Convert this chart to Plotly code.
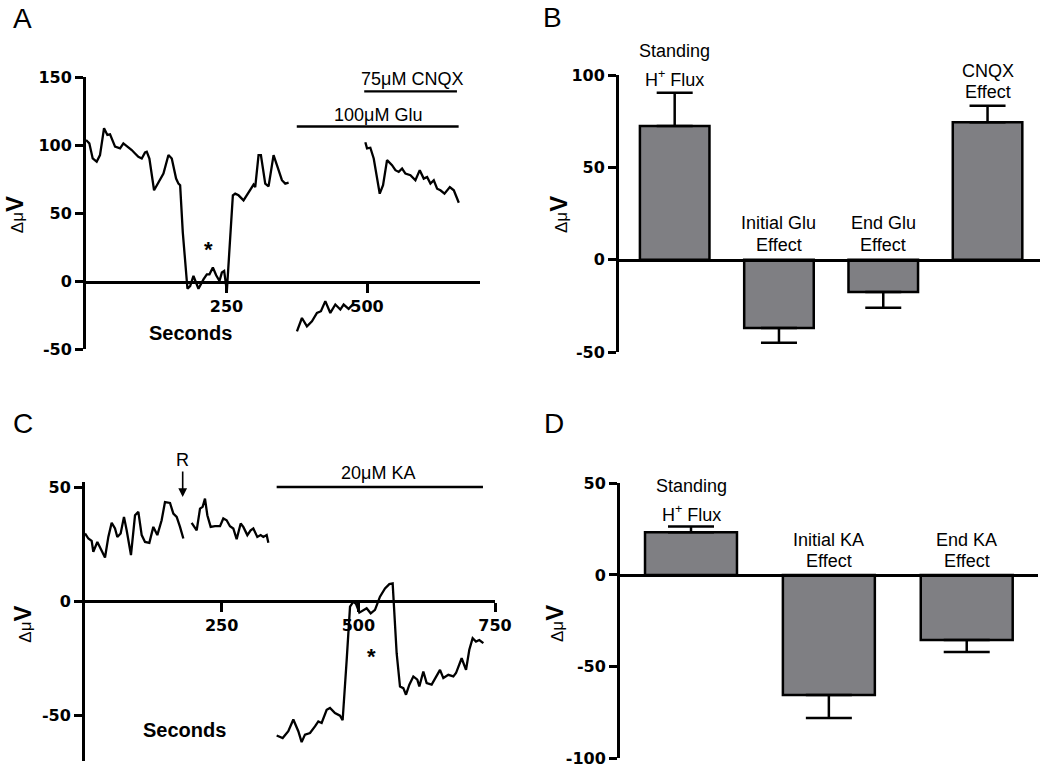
import plotly.graph_objects as go

# ---------------- Panel A : trace (seconds, delta uV) ----------------
a_t1 = [0, 5.9, 11.9, 19, 24.9, 32.1, 38, 42.8, 51.7, 60.6, 66.5, 72.4, 81.4, 87.3, 93.2, 99.2,
        105.1, 108.1, 112.8, 121.1, 128.9, 137.8, 146.7, 152.6, 160.3, 164.5, 167.5, 172.2,
        180.5, 185.3, 191.2, 200.1, 209, 215, 219.7, 225.7, 231.6, 237.5, 241.7, 245.8, 250.6,
        254.5, 261.3, 265.4, 271.4, 280.3, 286.2, 292.2, 298.1, 301.1, 307, 311.2, 318.9, 324.8,
        333.7, 339.7, 348.6, 354.5, 360.5]
a_v1 = [103.7, 101.2, 90.1, 87.7, 92.6, 112.3, 107.4, 107.9, 98.8, 97.5, 101.2, 99.5, 96.3, 93.8,
        91.4, 90.1, 94.6, 95.1, 90.1, 66.7, 72.8, 79, 92.6, 90.1, 75.3, 71.6, 70.4, 35.8,
        -5.7, -3.7, 3.7, -5.7, 1.2, 4.9, 4.9, 9.9, 4.2, 0, 6.2, 7.4, -7.4,
        20, 63, 64.2, 63, 59.3, 63, 66.7, 70.9, 69.1, 92.6, 92.6, 71.6, 69.6,
        92.6, 85.2, 74.1, 71.6, 72.3]
a_t2 = [375.3, 384.2, 393.1, 402, 410.9, 418, 425.8, 434.7, 443.6, 452.5, 458.4, 467.3, 476.2]
a_v2 = [-37, -27.2, -33.3, -29.6, -23.5, -22.2, -14.8, -23.5, -17.3, -21, -17.3, -20.5, -16.5]
a_t3 = [497, 500, 505.9, 511.9, 522.6, 528.5, 535.6, 544.5, 550.5, 556.4, 562.4, 568.3, 577.2,
        586.1, 593.8, 600.9, 606.9, 612.8, 618.8, 624.7, 630.6, 637.8, 647.3, 654.4, 663.3]
a_v3 = [102, 97.5, 98, 90.1, 64.2, 70.4, 88.9, 85.2, 81.5, 80.2, 82.7, 79, 77.8,
        74.1, 81.5, 75.3, 76.5, 71.6, 74.1, 67.9, 66.7, 64.2, 69.1, 66.7, 57.5]
a_glu_t = [375, 663]
a_glu_v = [113.6, 113.6]
a_cnqx_t = [495, 660]
a_cnqx_v = [139.5, 139.5]

# ---------------- Panel C : trace ----------------
c_t1 = [0, 6.1, 12.2, 15.2, 22.6, 27.4, 36.6, 42.7, 48.8, 54.9, 59.1, 65.2, 71.3, 76.2, 84.1,
        91.5, 97.6, 103.7, 109.8, 117.7, 125, 132.3, 140.2, 146.3, 155.5, 161.6, 167.7, 173.8, 179.9]
c_v1 = [29.6, 27.4, 26.4, 21.6, 25.9, 23.8, 19.1, 28.1, 34.3, 31.8, 28.1, 29.6, 36.9, 31, 20.1,
        37.6, 39.1, 28.9, 25.9, 25.5, 32.5, 28.9, 35.4, 43.4, 43, 38.3, 36.9, 32.5, 27.4]
c_t2 = [195.1, 204.3, 210.4, 215.2, 219.5, 223.8, 229.9, 237.8, 247, 253, 259.1, 265.2, 271.3,
        277.4, 284.8, 289.6, 297, 303, 307.9, 315.2, 321.3, 326.2, 332.3, 335.4]
c_v2 = [34.3, 31, 40.5, 41.3, 44.9, 37.6, 32.5, 32.8, 32.8, 36.2, 35.4, 32.8, 31.8,
        27.1, 34, 32.5, 28.9, 31, 31.8, 28.1, 28.9, 28.1, 28.9, 25.5]
c_t3 = [350.6, 361.6, 371.9, 381.1, 390.2, 396.3, 402.4, 411.6, 420.7, 426.8, 432.9, 442.1, 448.2,
        457.3, 466.5, 471.3, 478.7, 484.8, 490.9, 495.7, 501.8, 509.1, 515.2, 522.6, 530.5, 539.6,
        548.8, 556.7, 562.8, 570.1, 576.2, 582.3, 587.2, 593.3, 600.6, 607.9, 611.6, 618.9, 625,
        634.1, 643.3, 649.4, 655.5, 664.6, 673.8, 678.7, 689, 697, 703, 709.1, 715.2, 721.3, 728.7]
c_v3 = [-59, -60.1, -57.1, -52, -57.1, -61.9, -58.6, -57.9, -55, -52.8, -53.5, -47.7, -46.9,
        -49.1, -50.3, -52.3, -25.8, -2.5, -0.3, -1.3, -5.1, -4.2, -3.2, -5.4, -3.9, 1.9,
        5.5, 7.4, 7.7, -22.9, -37.5, -38.2, -41.1, -36.7, -33.1, -34.5, -37.5, -30.9, -36,
        -36.7, -32.4, -30.2, -33.8, -32.4, -33.1, -31.6, -25.1, -30.2, -21.4, -16.3, -17.8, -17.1, -18.5]
c_ka_t = [350.6, 728]
c_ka_v = [50, 50]

# ---------------- Panel B / D : bar summaries ----------------
b_pos = [0, 1, 2, 3]
b_vals = [72.4, -37, -17.5, 74.4]
b_errs = [18, 8, 8.5, 9]
d_pos = [0, 1, 2]
d_vals = [23.3, -65.5, -35.5]
d_errs = [3.1, 12.5, 6.5]

# tick labels
a_xticks = [250, 500]
a_yticks = [-50, 0, 50, 100, 150]
b_yticks = [-50, 0, 50, 100]
c_xticks = [250, 500, 750]
c_yticks = [-50, 0, 50]
d_yticks = [-100, -50, 0, 50]

W, H = 1050, 772
def px(X):
    return X / W
def py(Y):
    return 1 - Y / H

BLACK = "black"
TICKFONT = dict(family="DejaVu Sans", size=16, color=BLACK, weight="bold")
TXT = "Liberation Sans, Arial, sans-serif"
BAR_FILL = "#7f7f83"

def join(*segs):
    xs, ys = [], []
    for i, (t, v) in enumerate(segs):
        if i:
            xs.append(None); ys.append(None)
        xs += list(t); ys += list(v)
    return xs, ys

def tlab(vals):
    return [str(v) for v in vals]

fig = go.Figure()
LW = 2.3

# Panel A
xa, ya = join((a_t1, a_v1), (a_t2, a_v2), (a_t3, a_v3))
fig.add_trace(go.Scatter(x=xa, y=ya, mode="lines", line=dict(color=BLACK, width=LW),
                         connectgaps=False, xaxis="x", yaxis="y", showlegend=False))
fig.add_trace(go.Scatter(x=a_glu_t, y=a_glu_v, mode="lines", line=dict(color=BLACK, width=LW),
                         xaxis="x", yaxis="y", showlegend=False))
fig.add_trace(go.Scatter(x=a_cnqx_t, y=a_cnqx_v, mode="lines", line=dict(color=BLACK, width=LW),
                         xaxis="x", yaxis="y", showlegend=False))

# Panel C
xc, yc = join((c_t1, c_v1), (c_t2, c_v2), (c_t3, c_v3))
fig.add_trace(go.Scatter(x=xc, y=yc, mode="lines", line=dict(color=BLACK, width=LW),
                         connectgaps=False, xaxis="x3", yaxis="y3", showlegend=False))
fig.add_trace(go.Scatter(x=c_ka_t, y=c_ka_v, mode="lines", line=dict(color=BLACK, width=LW),
                         xaxis="x3", yaxis="y3", showlegend=False))

# Bars
def bar(pos, vals, errs, xa_, ya_, cap):
    return go.Bar(
        x=pos, y=vals, width=0.667, xaxis=xa_, yaxis=ya_, showlegend=False,
        marker=dict(color=BAR_FILL, line=dict(color=BLACK, width=2.5)),
        error_y=dict(type="data", symmetric=False,
                     array=[e if v > 0 else 0 for v, e in zip(vals, errs)],
                     arrayminus=[e if v < 0 else 0 for v, e in zip(vals, errs)],
                     color=BLACK, thickness=2.5, width=cap))

fig.add_trace(bar(b_pos, b_vals, b_errs, "x2", "y2", 18))
fig.add_trace(bar(d_pos, d_vals, d_errs, "x4", "y4", 23))

common_x = dict(showgrid=False, zeroline=False, showline=True, linecolor=BLACK, linewidth=3,
                anchor="free", tickfont=TICKFONT, fixedrange=True, automargin=False)
common_y = dict(showgrid=False, zeroline=False, showline=True, linecolor=BLACK, linewidth=3,
                ticks="outside", ticklen=8, tickwidth=3, tickcolor=BLACK,
                tickfont=TICKFONT, ticklabelstandoff=0, fixedrange=True, automargin=False)

C_TOP = 52  # a touch above the 50 tick so the KA bar is not clipped
fig.update_layout(
    width=W, height=H, margin=dict(l=0, r=0, t=0, b=0, pad=0, autoexpand=False),
    paper_bgcolor="white", plot_bgcolor="rgba(0,0,0,0)",
    bargap=0, showlegend=False, hovermode=False,
    xaxis=dict(common_x, domain=[px(86), px(480)], range=[0, 701], position=py(282),
               tickmode="array", tickvals=a_xticks, ticktext=tlab(a_xticks),
               ticks="outside", ticklen=9, tickwidth=3, tickcolor=BLACK),
    yaxis=dict(common_y, domain=[py(349), py(77)], range=[-50, 150], anchor="x",
               tickmode="array", tickvals=a_yticks, ticktext=tlab(a_yticks)),
    xaxis2=dict(common_x, domain=[px(619), px(1040)], range=[-0.534, 3.503], position=py(260),
                showticklabels=False, ticks=""),
    yaxis2=dict(common_y, domain=[py(352), py(75)], range=[-50, 100], anchor="x2",
                tickmode="array", tickvals=b_yticks, ticktext=tlab(b_yticks)),
    xaxis3=dict(common_x, domain=[px(85), px(495)], range=[0, 750], position=py(601),
                tickmode="array", tickvals=c_xticks, ticktext=tlab(c_xticks),
                ticks="outside", ticklen=9, tickwidth=3, tickcolor=BLACK),
    yaxis3=dict(common_y, domain=[py(760.6), py(487 - (C_TOP - 50) * 2.28)], range=[-70, C_TOP],
                anchor="x3", tickmode="array", tickvals=c_yticks, ticktext=tlab(c_yticks)),
    xaxis4=dict(common_x, domain=[px(620), px(1038)], range=[-0.515, 2.517], position=py(575),
                showticklabels=False, ticks=""),
    yaxis4=dict(common_y, domain=[py(758.3), py(483.3)], range=[-100, 50], anchor="x4",
                tickmode="array", tickvals=d_yticks, ticktext=tlab(d_yticks)),
)

ann = []
def note(text, x, y, xref, yref, size=18, bold=False, family=TXT, **kw):
    ann.append(dict(text=f"<b>{text}</b>" if bold else text, x=x, y=y, xref=xref, yref=yref,
                    showarrow=False, xanchor="center", yanchor="middle",
                    font=dict(family=family, size=size, color=BLACK), **kw))

# panel letters
for lab, X, Y in [("A", 22.7, 19), ("B", 552.5, 18), ("C", 22.7, 423.5), ("D", 553.5, 424)]:
    note(lab, px(X), py(Y), "paper", "paper", size=28)

# y titles
ytitle = '<span style="font-size:17px">Δμ</span><b>V</b>'
for X, Y in [(14.2, 215), (558, 215), (21.7, 624), (554, 624)]:
    note(ytitle, px(X), py(Y), "paper", "paper", size=24, textangle=-90)

# Panel A texts
note("75μM CNQX", 580, py(79), "x", "paper")
note("100μM Glu", 520, py(115), "x", "paper")
note("*", 218, 23, "x", "y", size=22, bold=True)
note("Seconds", 186.5, -38.3, "x", "y", size=20, bold=True)

# Panel C texts
note("20μM KA", 536, py(473.5), "x3", "paper")
note("*", 524, -24.3, "x3", "y3", size=22, bold=True)
note("Seconds", 181.7, -56.4, "x3", "y3", size=20, bold=True)
ann.append(dict(text="R", x=178.7, y=45.6, xref="x3", yref="y3", showarrow=True,
                ax=0, ay=-37, arrowhead=2, arrowsize=1.1, arrowwidth=1.6, arrowcolor=BLACK,
                standoff=0, font=dict(family=TXT, size=18, color=BLACK)))

# Panel B texts
note("Standing", 0, py(51), "x2", "paper")
note("H<sup>+</sup> Flux", 0, 98.2, "x2", "y2")
note("Initial Glu", 1, 20, "x2", "y2")
note("Effect", 1, 7.9, "x2", "y2")
note("End Glu", 2, 20, "x2", "y2")
note("Effect", 2, 7.9, "x2", "y2")
note("CNQX", 3, py(71), "x2", "paper")
note("Effect", 3, 91, "x2", "y2")

# Panel D texts
note("Standing", 0, 48.7, "x4", "y4")
note("H<sup>+</sup> Flux", 0, 33.7, "x4", "y4")
note("Initial KA", 1, 19.2, "x4", "y4")
note("Effect", 1, 7.5, "x4", "y4")
note("End KA", 2, 19.2, "x4", "y4")
note("Effect", 2, 7.5, "x4", "y4")

fig.update_layout(annotations=ann)
fig.write_html("out.html", config={"displayModeBar": False, "staticPlot": True},
               post_script="document.body.style.margin='0';document.body.style.padding='0';")
